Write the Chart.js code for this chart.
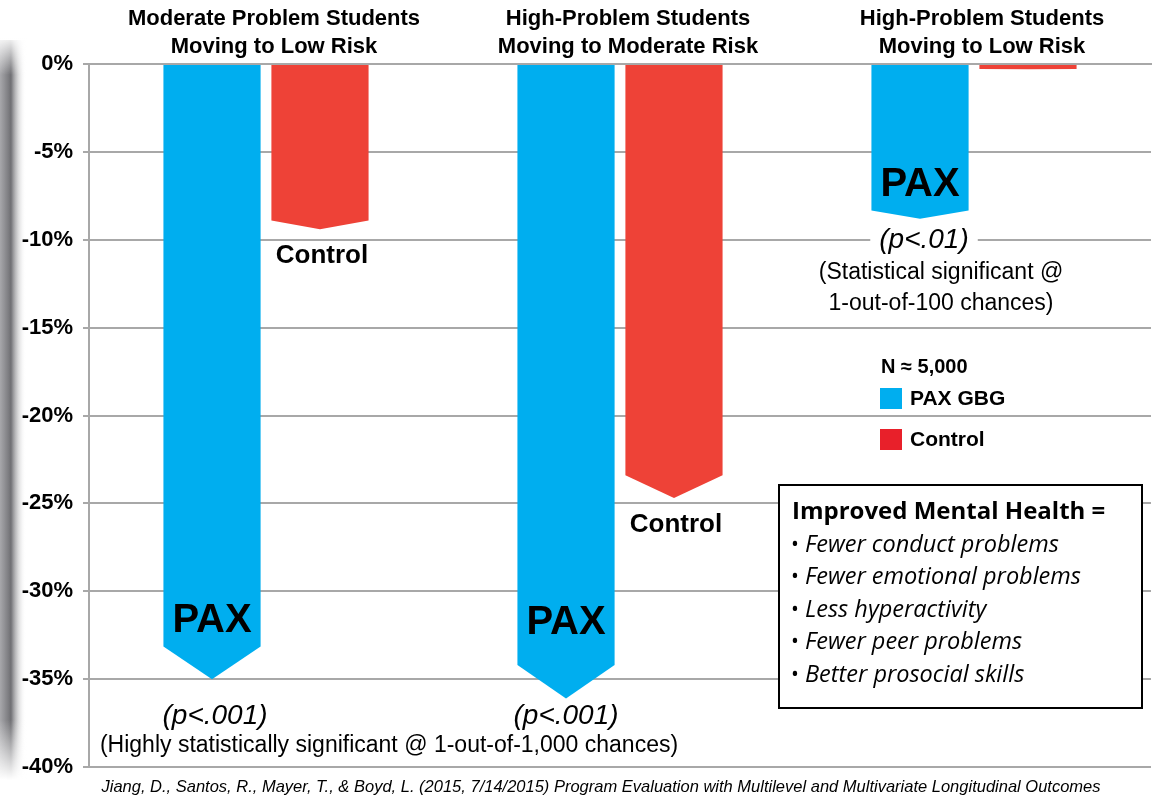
<!DOCTYPE html>
<html>
<head>
<meta charset="utf-8">
<script src="https://cdn.jsdelivr.net/npm/chart.js@4.4.1/dist/chart.umd.min.js"></script>
<style>
  html, body { margin: 0; padding: 0; background: #fff; }
</style>
</head>
<body>
<canvas id="riskChart" width="1165" height="800"></canvas>
<script>
  // data
  const groups = [
    ['Moderate Problem Students', 'Moving to Low Risk'],
    ['High-Problem Students', 'Moving to Moderate Risk'],
    ['High-Problem Students', 'Moving to Low Risk']
  ];
  const paxChange = [-35.0, -36.1, -8.8];
  const controlChange = [-9.4, -24.7, -0.3];
  const yTicks = [0, -5, -10, -15, -20, -25, -30, -35, -40];
  const pValues = ['(p<.001)', '(p<.001)', '(p<.01)'];
  const sampleNote = 'N \u2248 5,000';
  const outcomesTitle = 'Improved Mental Health =';
  const outcomes = [
    'Fewer conduct problems',
    'Fewer emotional problems',
    'Less hyperactivity',
    'Fewer peer problems',
    'Better prosocial skills'
  ];
  const sourceNote = 'Jiang, D., Santos, R., Mayer, T., & Boyd, L. (2015, 7/14/2015) Program Evaluation with Multilevel and Multivariate Longitudinal Outcomes';

  const BLUE = '#00aeef';
  const RED = '#ee4237';
  const HELV = '"Liberation Sans", Arial, sans-serif';
  const MYRIAD = '"Open Sans", Lato, sans-serif';

  // bars end in a downward point, roughly 5% of their length
  const arrowBars = {
    id: 'arrowBars',
    beforeDatasetDraw(chart, args) {
      const ctx = chart.ctx;
      const color = chart.data.datasets[args.index].backgroundColor;
      ctx.save();
      ctx.fillStyle = color;
      args.meta.data.forEach(bar => {
        const { x, y, base, width } = bar.getProps(['x', 'y', 'base', 'width'], true);
        const shoulder = y - (y - base) * 0.053;
        ctx.beginPath();
        ctx.moveTo(x - width / 2, base);
        ctx.lineTo(x + width / 2, base);
        ctx.lineTo(x + width / 2, shoulder);
        ctx.lineTo(x, y);
        ctx.lineTo(x - width / 2, shoulder);
        ctx.closePath();
        ctx.fill();
      });
      ctx.restore();
      return false;
    }
  };

  // page-curl shadow on the left edge
  const edgeShadow = {
    id: 'edgeShadow',
    beforeDraw(chart) {
      const ctx = chart.ctx;
      ctx.save();
      const g = ctx.createLinearGradient(0, 0, 26, 0);
      g.addColorStop(0, 'rgba(130,130,135,0.7)');
      g.addColorStop(0.42, 'rgba(75,75,80,0.8)');
      g.addColorStop(1, 'rgba(255,255,255,0)');
      ctx.fillStyle = g;
      ctx.fillRect(0, 40, 26, 740);
      const fadeTop = ctx.createLinearGradient(0, 35, 0, 75);
      fadeTop.addColorStop(0, 'rgba(255,255,255,1)');
      fadeTop.addColorStop(1, 'rgba(255,255,255,0)');
      ctx.fillStyle = fadeTop;
      ctx.fillRect(0, 35, 28, 40);
      const fadeBot = ctx.createLinearGradient(0, 720, 0, 780);
      fadeBot.addColorStop(0, 'rgba(255,255,255,0)');
      fadeBot.addColorStop(1, 'rgba(255,255,255,1)');
      ctx.fillStyle = fadeBot;
      ctx.fillRect(0, 720, 28, 60);
      ctx.restore();
    }
  };

  const annotations = {
    id: 'annotations',
    afterDatasetsDraw(chart) {
      const ctx = chart.ctx;
      const yScale = chart.scales.y;
      const pax = chart.getDatasetMeta(0).data;
      const ctl = chart.getDatasetMeta(1).data;
      ctx.save();
      ctx.fillStyle = '#000';
      ctx.textAlign = 'center';
      ctx.textBaseline = 'middle';

      // PAX inside blue bars
      ctx.font = 'bold 40px ' + HELV;
      pax.forEach(bar => {
        const shoulder = bar.y - (bar.y - bar.base) * 0.053;
        const ty = Math.min(shoulder - 26, yScale.getPixelForValue(-31.8));
        ctx.fillText('PAX', bar.x, ty);
      });

      // Control under red bars (first two groups)
      ctx.font = 'bold 26px ' + HELV;
      ctl.slice(0, 2).forEach(bar => {
        ctx.fillText('Control', bar.x + 2, bar.y + 27);
      });

      // p values
      ctx.font = 'italic 28px ' + HELV;
      const pY = yScale.getPixelForValue(-37.1);
      ctx.fillText(pValues[0], pax[0].x + 3, pY);
      ctx.fillText(pValues[1], pax[1].x, pY);
      const p3y = yScale.getPixelForValue(-10);
      const w3 = ctx.measureText(pValues[2]).width;
      ctx.fillStyle = '#fff';
      ctx.fillRect(pax[2].x + 4 - w3 / 2 - 9, p3y - 16, w3 + 18, 32);
      ctx.fillStyle = '#000';
      ctx.fillText(pValues[2], pax[2].x + 4, p3y);

      ctx.font = '23px ' + HELV;
      ctx.fillText('(Highly statistically significant @ 1-out-of-1,000 chances)', (pax[0].x + pax[1].x) / 2, yScale.getPixelForValue(-38.8));
      ctx.fillText('(Statistical significant @', pax[2].x + 21, yScale.getPixelForValue(-11.9));
      ctx.fillText('1-out-of-100 chances)', pax[2].x + 21, yScale.getPixelForValue(-13.65));

      // legend
      ctx.textAlign = 'left';
      ctx.font = 'bold 20px ' + HELV;
      ctx.fillText(sampleNote, 881, 367);
      ctx.fillStyle = BLUE;
      ctx.fillRect(880, 388, 22, 21);
      ctx.fillStyle = '#e8202a';
      ctx.fillRect(880, 429, 22, 21);
      ctx.fillStyle = '#000';
      ctx.font = 'bold 21px ' + HELV;
      ctx.fillText(chart.data.datasets[0].label, 910, 399);
      ctx.fillText(chart.data.datasets[1].label, 910, 440);

      // outcomes box
      ctx.fillStyle = '#fff';
      ctx.fillRect(779, 485, 363, 223);
      ctx.strokeStyle = '#000';
      ctx.lineWidth = 2;
      ctx.strokeRect(779, 485, 363, 223);
      ctx.fillStyle = '#000';
      ctx.font = 'bold 24px ' + MYRIAD;
      ctx.fillText(outcomesTitle, 792, 512);
      outcomes.forEach((t, i) => {
        const ly = 545 + i * 32.5;
        ctx.font = '21px ' + MYRIAD;
        ctx.fillText('\u2022', 791, ly);
        ctx.font = 'italic 23.5px ' + MYRIAD;
        ctx.fillText(t, 805, ly);
      });

      // source
      ctx.textAlign = 'center';
      ctx.font = 'italic 16.5px ' + HELV;
      ctx.fillText(sourceNote, 601, 787);
      ctx.restore();
    }
  };

  const ctx = document.getElementById('riskChart').getContext('2d');

  new Chart(ctx, {
    type: 'bar',
    data: {
      labels: groups,
      datasets: [
        { label: 'PAX GBG', data: paxChange, backgroundColor: BLUE },
        { label: 'Control', data: controlChange, backgroundColor: RED }
      ]
    },
    options: {
      responsive: false,
      animation: false,
      devicePixelRatio: 1,
      layout: { padding: { left: 0, right: 14, top: 0, bottom: 33 } },
      datasets: { bar: { barPercentage: 0.9, categoryPercentage: 0.61 } },
      plugins: {
        legend: { display: false },
        tooltip: { enabled: false }
      },
      scales: {
        x: {
          position: 'top',
          grid: { display: false },
          border: { display: true, color: '#a8a8a8', width: 2 },
          ticks: {
            color: '#000',
            font: { family: HELV, size: 22, weight: 'bold', lineHeight: 1.27 },
            padding: -5,
            labelOffset: 8,
            maxRotation: 0
          },
          afterFit: s => { s.height = 64; }
        },
        y: {
          min: -40,
          max: 0,
          afterBuildTicks: s => { s.ticks = yTicks.map(v => ({ value: v })); },
          grid: { color: '#a8a8a8', lineWidth: 2, tickLength: 6 },
          border: { color: '#a8a8a8', width: 2 },
          ticks: {
            color: '#000',
            font: { family: HELV, size: 22, weight: 'bold' },
            padding: 10,
            callback: v => v + '%'
          },
          afterFit: s => { s.width = 89; }
        }
      }
    },
    plugins: [edgeShadow, arrowBars, annotations]
  });
</script>
</body>
</html>
